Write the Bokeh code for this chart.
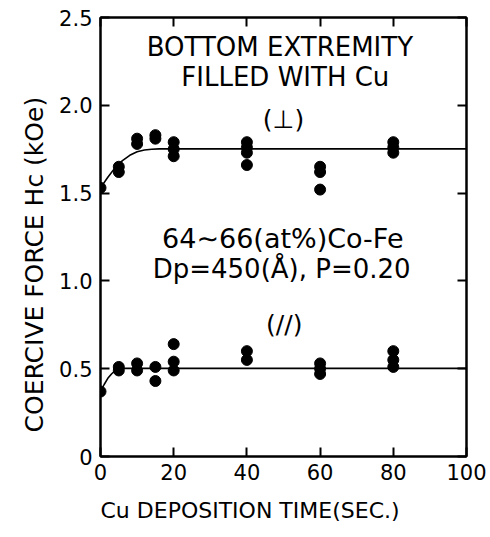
from bokeh.plotting import figure
from bokeh.models import Range1d, LinearAxis, FixedTicker, Title
from bokeh.core.properties import value
from bokeh.embed import file_html
from bokeh.resources import INLINE

FONT = "DejaVu Sans"

# perpendicular (⊥) measurements
perp_x = [0, 5, 5, 10, 10, 15, 15, 20, 20, 20, 40, 40, 40, 40, 60, 60, 60, 80, 80, 80]
perp_y = [1.53, 1.65, 1.62, 1.81, 1.78, 1.83, 1.81, 1.79, 1.75, 1.71,
          1.79, 1.76, 1.73, 1.66, 1.65, 1.62, 1.52, 1.79, 1.76, 1.73]
# parallel (//) measurements
par_x = [0, 5, 5, 10, 10, 15, 15, 20, 20, 20, 40, 40, 60, 60, 60, 80, 80, 80]
par_y = [0.37, 0.51, 0.49, 0.53, 0.49, 0.51, 0.43, 0.64, 0.54, 0.49,
         0.60, 0.55, 0.53, 0.50, 0.47, 0.60, 0.55, 0.51]

# guide curves
perp_curve_x = [0, 2, 4, 6, 8, 10, 12, 14, 16, 20, 100]
perp_curve_y = [1.53, 1.59, 1.645, 1.685, 1.715, 1.735, 1.745, 1.75, 1.752, 1.752, 1.752]
par_curve_x = [0, 1, 2, 3, 4, 5, 6, 100]
par_curve_y = [0.37, 0.41, 0.445, 0.47, 0.49, 0.5, 0.502, 0.502]

x_ticks = [0, 20, 40, 60, 80, 100]
y_ticks = [0, 0.5, 1.0, 1.5, 2.0, 2.5]

notes = ["BOTTOM EXTREMITY", "FILLED WITH Cu", "(\u22a5)",
         "64\u223c66(at%)Co-Fe", "Dp=450(\u00c5), P=0.20", "(//)"]
notes_x = [49.0, 50.5, 50.0, 49.8, 49.5, 50.2]
notes_y = [2.33, 2.16, 1.92, 1.24, 1.07, 0.75]
notes_size = ["26px", "26px", "25px", "27px", "26px", "25px"]

x_title = "Cu DEPOSITION TIME(SEC.)"
y_title = "COERCIVE FORCE Hc (kOe)"

p = figure(width=488, height=535, output_backend="svg", toolbar_location=None,
           x_range=Range1d(0, 100), y_range=Range1d(0, 2.5),
           min_border_left=100, min_border_right=22, min_border_top=17, min_border_bottom=76)
p.grid.visible = False
p.outline_line_color = "black"
p.outline_line_width = 2
p.background_fill_color = "white"
p.border_fill_color = "white"

for ax in (p.xaxis[0], p.yaxis[0]):
    ax.major_tick_in = 9
    ax.major_tick_out = 0
    ax.minor_tick_line_color = None
    ax.axis_line_width = 2
    ax.major_tick_line_width = 2
    ax.major_label_text_font = FONT
    ax.major_label_text_font_size = "21px"
    ax.major_label_text_color = "black"

p.xaxis[0].ticker = FixedTicker(ticks=x_ticks)
p.yaxis[0].ticker = FixedTicker(ticks=y_ticks)
p.xaxis[0].major_label_standoff = 7
p.yaxis[0].major_label_standoff = 8
p.xaxis[0].major_label_overrides = {0: "0", 20: "20", 40: "40", 60: "60", 80: "80", 100: "100"}
p.yaxis[0].major_label_overrides = {0: "0", 0.5: "0.5", 1: "1.0", 1.5: "1.5", 2: "2.0", 2.5: "2.5"}

top = LinearAxis(ticker=FixedTicker(ticks=x_ticks), major_label_text_font_size="0px",
                 major_tick_in=9, major_tick_out=0, major_tick_line_width=2,
                 axis_line_width=2, minor_tick_line_color=None, major_label_standoff=0)
right = LinearAxis(ticker=FixedTicker(ticks=y_ticks), major_label_text_font_size="0px",
                   major_tick_in=9, major_tick_out=0, major_tick_line_width=2,
                   axis_line_width=2, minor_tick_line_color=None, major_label_standoff=0)
p.add_layout(top, "above")
p.add_layout(right, "right")

p.add_layout(Title(text=x_title, align="left", offset=0, standoff=26,
                   text_font=FONT, text_font_size="22px", text_font_style="normal",
                   text_color="black"), "below")
p.add_layout(Title(text=y_title, align="left", offset=24, standoff=16,
                   text_font=FONT, text_font_size="25px", text_font_style="normal",
                   text_color="black"), "left")

p.line(perp_curve_x, perp_curve_y, line_color="black", line_width=1.6)
p.line(par_curve_x, par_curve_y, line_color="black", line_width=1.6)
p.scatter(perp_x, perp_y, size=11, color="black")
p.scatter(par_x, par_y, size=11, color="black")

p.text(x="x", y="y", text="t", text_font_size="s", source=dict(x=notes_x, y=notes_y, t=notes, s=notes_size),
       text_font=value(FONT), text_align="center", text_baseline="middle", text_color="black")

open("out.html", "w").write(file_html(p, INLINE))
